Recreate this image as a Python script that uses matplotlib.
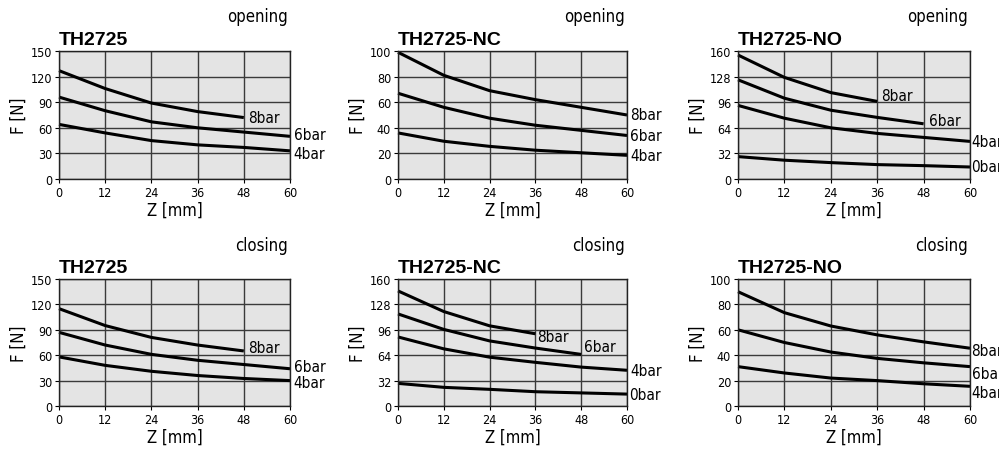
import numpy as np
import matplotlib
matplotlib.use('Agg')
import matplotlib.pyplot as plt

plt.rcParams['font.family'] = ['DejaVu Sans']
plt.rcParams['font.stretch'] = 'condensed'

z = [0, 12, 24, 36, 48, 60]

# opening
th_open_8 = [127, 106, 89, 79, 72]
th_open_6 = [96, 80, 67, 60, 55, 50]
th_open_4 = [64, 54, 45, 40, 37, 33]

nc_open_8 = [99, 81, 69, 62, 56, 50]
nc_open_6 = [67, 56, 47.5, 42, 38, 34]
nc_open_4 = [36, 29.5, 25.5, 22.5, 20.5, 18.5]

no_open_8 = [155, 127, 108, 97]
no_open_6 = [124, 101, 86, 77, 69]
no_open_4 = [92, 76, 64, 57, 52, 47]
no_open_0 = [28, 23.5, 20.5, 18, 16.7, 15]

# closing
th_close_8 = [115, 95, 81, 72, 65]
th_close_6 = [87, 72, 61, 54, 49, 44]
th_close_4 = [58, 48, 41, 36, 32.5, 30]

nc_close_8 = [145, 119, 101, 91]
nc_close_6 = [116, 96.5, 82, 73, 65]
nc_close_4 = [87, 72, 61.5, 55, 49, 45]
nc_close_0 = [28.5, 23.5, 21, 18, 16.5, 15]

no_close_8 = [90, 73.5, 63, 56, 50.5, 45.5]
no_close_6 = [60, 50, 42.5, 37.5, 34, 31]
no_close_4 = [31, 26, 22, 20, 17.5, 15.5]

panels = [
    ('TH2725', 'opening', 150, [0, 30, 60, 90, 120, 150],
     [('8bar', th_open_8), ('6bar', th_open_6), ('4bar', th_open_4)]),
    ('TH2725-NC', 'opening', 100, [0, 20, 40, 60, 80, 100],
     [('8bar', nc_open_8), ('6bar', nc_open_6), ('4bar', nc_open_4)]),
    ('TH2725-NO', 'opening', 160, [0, 32, 64, 96, 128, 160],
     [('8bar', no_open_8), ('6bar', no_open_6), ('4bar', no_open_4), ('0bar', no_open_0)]),
    ('TH2725', 'closing', 150, [0, 30, 60, 90, 120, 150],
     [('8bar', th_close_8), ('6bar', th_close_6), ('4bar', th_close_4)]),
    ('TH2725-NC', 'closing', 160, [0, 32, 64, 96, 128, 160],
     [('8bar', nc_close_8), ('6bar', nc_close_6), ('4bar', nc_close_4), ('0bar', nc_close_0)]),
    ('TH2725-NO', 'closing', 100, [0, 20, 40, 60, 80, 100],
     [('8bar', no_close_8), ('6bar', no_close_6), ('4bar', no_close_4)]),
]

# label offsets (dx in data units, dy as fraction of ymax)
label_offsets = {
    (0, '8bar'): (1.0, 0.0), (0, '6bar'): (1.0, 0.012), (0, '4bar'): (1.0, -0.022),
    (2, '8bar'): (1.0, 0.047), (2, '6bar'): (1.3, 0.023), (2, '4bar'): (0.4, 0.0),
    (2, '0bar'): (0.4, 0.0),
    (3, '8bar'): (1.0, 0.03), (3, '6bar'): (1.0, 0.015), (3, '4bar'): (1.0, -0.015),
    (4, '8bar'): (0.5, -0.024), (4, '6bar'): (0.8, 0.063), (4, '0bar'): (0.5, 0.0),
    (5, '8bar'): (0.4, -0.016), (5, '6bar'): (0.4, -0.055), (5, '4bar'): (0.4, -0.047),
}

fig = plt.figure(figsize=(9.99, 4.52), dpi=100)
lefts = [59, 398, 738]
widths = [231, 229, 232]
rows = [(52, 180), (280, 407)]

for i, (name, mode, ymax, yticks, curves) in enumerate(panels):
    r, c = divmod(i, 3)
    top, bot = rows[r]
    ax = fig.add_axes([lefts[c] / 999, (452 - bot) / 452, widths[c] / 999, (bot - top) / 452])
    ax.set_facecolor('#e4e4e4')
    ax.set_xlim(0, 60)
    ax.set_ylim(0, ymax)
    ax.set_xticks(z)
    ax.set_yticks(yticks)
    ax.grid(True, color='#3a3a3a', lw=1.0)
    ax.set_axisbelow(True)
    for s in ax.spines.values():
        s.set_color('#222222')
        s.set_linewidth(1.0)
    ax.tick_params(labelsize=9, length=3, width=0.8, pad=2)
    ax.set_xlabel('Z [mm]', fontsize=12, labelpad=1)
    ax.set_ylabel('F [N]', fontsize=12, labelpad=2)
    for lab, vals in curves:
        xs = z[:len(vals)]
        ax.plot(xs, vals, color='black', lw=2.2, solid_capstyle='butt', clip_on=False)
        dx, dy = label_offsets.get((i, lab), (0.8, 0.0))
        ax.text(xs[-1] + dx, vals[-1] + dy * ymax, lab, fontsize=11,
                va='center', ha='left', clip_on=False)
    ax.text(0, 1.02, name, transform=ax.transAxes, fontsize=14, fontweight='bold',
            family=['Liberation Sans', 'DejaVu Sans'], fontstretch='normal',
            ha='left', va='bottom')
    ax.text(0.99, 1.2, mode, transform=ax.transAxes, fontsize=12, ha='right', va='bottom')

fig.savefig('out.png', dpi=100)
